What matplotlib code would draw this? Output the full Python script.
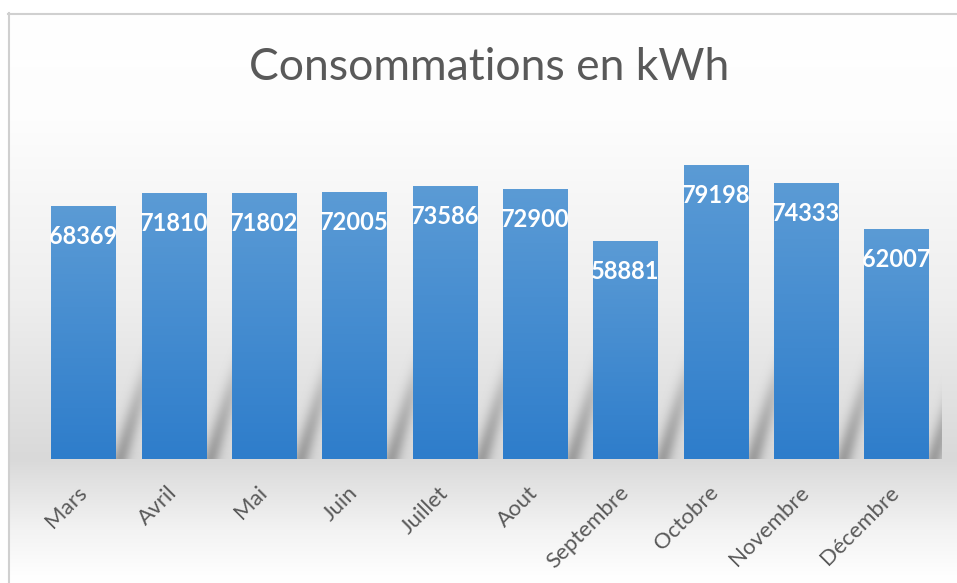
import numpy as np
import matplotlib.pyplot as plt
from matplotlib.lines import Line2D
from matplotlib.colors import LinearSegmentedColormap
from matplotlib.transforms import ScaledTranslation

months = ["Mars", "Avril", "Mai", "Juin", "Juillet", "Aout",
          "Septembre", "Octobre", "Novembre", "Décembre"]
values = [68369, 71810, 71802, 72005, 73586, 72900, 58881, 79198, 74333, 62007]
title = "Consommations en kWh"

W, H = 957, 583
fig = plt.figure(figsize=(W / 100, H / 100), dpi=100)
fig.patch.set_facecolor("white")

# background: grey band around the baseline, white top and bottom
bg = fig.add_axes([0, 0, 1, 1], zorder=0)
rows = np.arange(H)
shade = np.interp(rows, [13, 120, 300, 459, 480, 530, 575],
                  [255, 253, 238, 217, 225, 243, 254]) / 255
img = np.repeat(shade[:, None], W, axis=1)
img = np.dstack([img, img, img])
img[:13] = 1
img[:, :8] = 1
bg.imshow(img, extent=[0, W, H, 0], aspect="auto", interpolation="bilinear")
bg.add_line(Line2D([8.5, 8.5], [13, H], color="#d0d0d0", lw=1.5))
bg.add_line(Line2D([8, W], [13.5, 13.5], color="#d0d0d0", lw=1.5))
bg.set_xlim(0, W)
bg.set_ylim(H, 0)
bg.axis("off")

# main axes
ax_left, ax_bottom, ax_w, ax_h = 38.4, 124, 903, 333
ax = fig.add_axes([ax_left / W, ax_bottom / H, ax_w / W, ax_h / H], zorder=1)
ax.patch.set_alpha(0)

x = np.arange(len(values))
bw = 0.71
ymax = 90000

# soft slanted shadows to the right of each bar
nx, ny = int(ax_w), int(ax_h)
px = np.arange(nx)[None, :] + 0.5
py = np.arange(ny)[:, None] + 0.5
unit = ax_w / len(values)
alpha = np.zeros((ny, nx))
fade = np.clip(1 - py / 120, 0, 1) ** 0.8
for i in x:
    edge = (i + bw / 2 + 0.5) * unit
    d = px - (edge + 5 + 0.3 * py)
    alpha += 0.55 * np.exp(-(d / 9) ** 2) * fade
shadow = np.zeros((ny, nx, 4))
shadow[..., :3] = 0.42
shadow[..., 3] = np.clip(alpha, 0, 1)
ax.imshow(shadow, origin="lower", extent=[-0.5, len(values) - 0.5, 0, ymax],
          aspect="auto", zorder=1, interpolation="bilinear")

# bars with vertical gradient
bars = ax.bar(x, values, width=bw, color="#4a8fd3", zorder=2)
cmap = LinearSegmentedColormap.from_list("bar", ["#2e7dcb", "#5b9bd5"])
grad = np.linspace(0, 1, 256)[:, None]
for b in bars:
    ax.imshow(grad, cmap=cmap, origin="lower", aspect="auto", zorder=3,
              extent=[b.get_x(), b.get_x() + b.get_width(), 0, b.get_height()])

for xi, v in zip(x, values):
    ax.annotate(str(v), (xi, v), xytext=(0, -21.6), textcoords="offset points",
                ha="center", va="center", color="white", fontsize=17,
                fontweight="bold", family="Lato", zorder=4)

ax.set_xlim(-0.5, len(values) - 0.5)
ax.set_ylim(0, ymax)
for s in ax.spines.values():
    s.set_visible(False)
ax.set_yticks([])
ax.set_xticks(x)
ax.set_xticklabels(months, rotation=45, ha="right", va="top",
                   rotation_mode="anchor", fontsize=16, color="#595959",
                   family="Lato")
ax.tick_params(axis="x", length=0, pad=17)
for lab in ax.get_xticklabels():
    lab.set_transform(lab.get_transform() + ScaledTranslation(-0.07, 0, fig.dpi_scale_trans))

fig.text(489.5 / W, 1 - 80 / H, title, ha="center", va="baseline",
         fontsize=32, color="#595959", family="Lato")

fig.savefig("out.png", dpi=100)
